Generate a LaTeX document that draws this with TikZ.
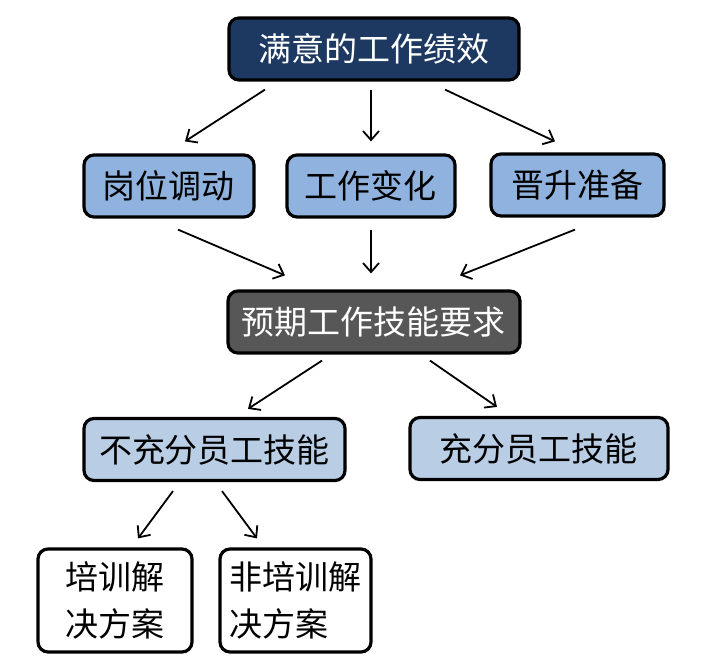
\documentclass[tikz,border=0pt]{standalone}
\usepackage{fontspec}
\setmainfont{Noto Sans CJK SC}
\usepackage{xcolor}
\usepackage{tikz}
\usetikzlibrary{
  arrows.meta,
  positioning,
  calc
}
\definecolor{navybox}{HTML}{1D3961}
\definecolor{bluebox}{HTML}{8FB3DE}
\definecolor{palebox}{HTML}{B9CDE5}
\definecolor{graybox}{HTML}{575757}

\begin{document}
\begin{tikzpicture}[x=0.5pt, y=-0.5pt,
  every node/.style={font=\fontsize{16.5}{23.5}\selectfont},
  box/.style={draw=black, line width=1.6pt, rounded corners=5pt, inner sep=0pt,
    minimum height=31pt},
  arr/.style={-{Straight Barb[length=4.5pt,width=8pt]}, line width=0.9pt}]
\useasboundingbox (0,0) rectangle (720,662);

% top level
\node[box, fill=navybox, text=white, minimum width=145pt] (perf) at (374,49) {满意的工作绩效};

% three situations
\node[box, fill=bluebox, minimum width=85pt] (move) at (169,186) {岗位调动};
\node[box, fill=bluebox, minimum width=84pt] (change) at (371,186) {工作变化};
\node[box, fill=bluebox, minimum width=86.5pt] (promo) at (577.5,185) {晋升准备};

% expected skills
\node[box, fill=graybox, text=white, minimum width=146pt] (skills) at (374,322) {预期工作技能要求};

% two outcomes
\node[box, fill=palebox, minimum width=130.5pt] (lack) at (214.5,449.5) {不充分员工技能};
\node[box, fill=palebox, minimum width=129pt] (enough) at (539,448.5) {充分员工技能};

% solutions
\node[box, fill=white, minimum width=77pt, minimum height=51.5pt, align=left] (train) at (115,600.5) {培训解\\决方案};
\node[box, fill=white, minimum width=75.5pt, minimum height=51.5pt, align=left] (other) at (295.5,600.5) {非培训解\\决方案};

% arrows, top to middle
\draw[arr] ($(perf.south)+(-109,8)$) -- ($(move.north)+(16,-12)$);
\draw[arr] ($(perf.south)+(-3,8)$) -- ($(change.north)+(0,-12)$);
\draw[arr] ($(perf.south)+(71,8)$) -- ($(promo.north)+(-22.5,-11)$);

% arrows into expected skills
\draw[arr] ($(move.south)+(9,11)$) -- ($(skills.north)+(-89,-14)$);
\draw[arr] ($(change.south)+(0,11)$) -- ($(skills.north)+(-3,-16)$);
\draw[arr] ($(promo.south)+(-2.5,12)$) -- ($(skills.north)+(86,-14)$);

% arrows to outcomes
\draw[arr] ($(skills.south)+(-52,6)$) -- ($(lack.north)+(33.5,-8)$);
\draw[arr] ($(skills.south)+(56,6)$) -- ($(enough.north)+(-42,-9)$);

% arrows to solutions
\draw[arr] ($(lack.south)+(-41.5,9)$) -- ($(train.north)+(23,-9)$);
\draw[arr] ($(lack.south)+(7.5,9)$) -- ($(other.north)+(-38.5,-9)$);
\end{tikzpicture}
\end{document}
